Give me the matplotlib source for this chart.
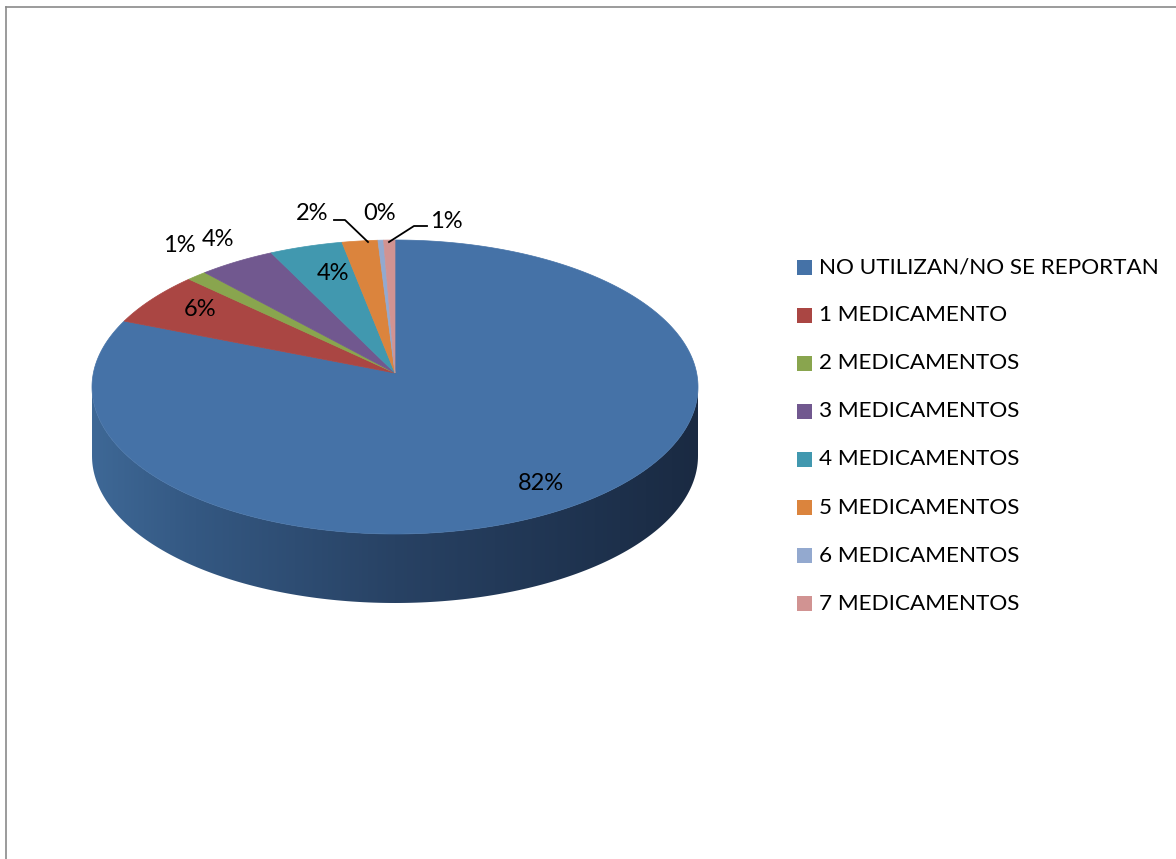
import numpy as np
import matplotlib.pyplot as plt
from matplotlib.patches import Polygon, Rectangle

plt.rcParams['font.family'] = ['Lato', 'DejaVu Sans']

categories = [
    'NO UTILIZAN/NO SE REPORTAN',
    '1 MEDICAMENTO',
    '2 MEDICAMENTOS',
    '3 MEDICAMENTOS',
    '4 MEDICAMENTOS',
    '5 MEDICAMENTOS',
    '6 MEDICAMENTOS',
    '7 MEDICAMENTOS',
]
values = [82.4, 5.7, 1.1, 4.1, 3.9, 1.9, 0.3, 0.6]

colors = ['#4572A7', '#AA4643', '#89A54E', '#71588F',
          '#4198AF', '#DB843D', '#93A9CF', '#D19392']

# pie geometry in pixels
cx, cy = 395, 387
apex = (395, 373)
rx, ry = 303, 147
depth = 69

# where each percentage label sits, and optional leader lines
label_pos = [(541, 484), (200, 309), (179, 246), (218, 239),
             (333, 273), (312, 214), (380, 214), (446, 221)]
leaders = {5: [(334, 220), (345, 220), (368, 242)],
           7: [(427, 226), (414, 226), (389, 242)]}


def rim(t, dy=0.0):
    # t in degrees, clockwise from 12 o'clock
    t = np.radians(t)
    return cx + rx * np.sin(t), cy - ry * np.cos(t) + dy


fig = plt.figure(figsize=(11.76, 8.59), dpi=100)
ax = fig.add_axes([0, 0, 1, 1])
ax.set_xlim(0, 1176)
ax.set_ylim(859, 0)
ax.axis('off')

# outer frame
ax.plot([6, 1176], [7, 7], color='#8a8a8a', lw=1.2)
ax.plot([6, 6], [7, 859], color='#8a8a8a', lw=1.2)

# front wall of the cylinder, shaded left to right
ts = np.linspace(90, 270, 181)
top_edge = [rim(t) for t in ts]
bottom_edge = [rim(t, depth) for t in ts[::-1]]
wall = Polygon(top_edge + bottom_edge, closed=True, facecolor='none',
               edgecolor='none')
ax.add_patch(wall)

stops_x = np.array([cx - rx, cx - 200, cx, cx + 200, cx + rx])
stops_c = np.array([[62, 104, 150], [52, 88, 130], [40, 66, 100],
                    [30, 50, 78], [26, 42, 66]]) / 255
gx = np.linspace(cx - rx, cx + rx, 400)
grad = np.stack([np.interp(gx, stops_x, stops_c[:, k]) for k in range(3)],
                axis=-1)[None, :, :]
img = ax.imshow(grad, extent=(cx - rx, cx + rx, cy + ry + depth + 2, cy - 5),
                aspect='auto', interpolation='bilinear', zorder=1)
img.set_clip_path(wall)
ax.set_xlim(0, 1176)
ax.set_ylim(859, 0)

# top face
total = sum(values)
start = 0.0
for val, col in zip(values, colors):
    span = 360 * val / total
    tt = np.linspace(start, start + span, max(int(span * 2), 2))
    pts = [apex] + [rim(t) for t in tt]
    ax.add_patch(Polygon(pts, closed=True, facecolor=col,
                         edgecolor=col, lw=0.5, zorder=2))
    start += span

# percentage labels
for i, val in enumerate(values):
    x, y = label_pos[i]
    ax.text(x, y, f'{round(val / total * 100):.0f}%', fontsize=17,
            ha='center', va='center', color='black', zorder=3)
for pts in leaders.values():
    xs, ys = zip(*pts)
    ax.plot(xs, ys, color='black', lw=1.3, zorder=3)

# legend
for i, (name, col) in enumerate(zip(categories, colors)):
    y = 267 + i * 48.1
    ax.add_patch(Rectangle((797, y - 7.5), 15, 15, facecolor=col,
                           edgecolor='none'))
    ax.text(819, y, name, fontsize=16.2, ha='left', va='center',
            color='black')

fig.savefig('out.png', dpi=100)
